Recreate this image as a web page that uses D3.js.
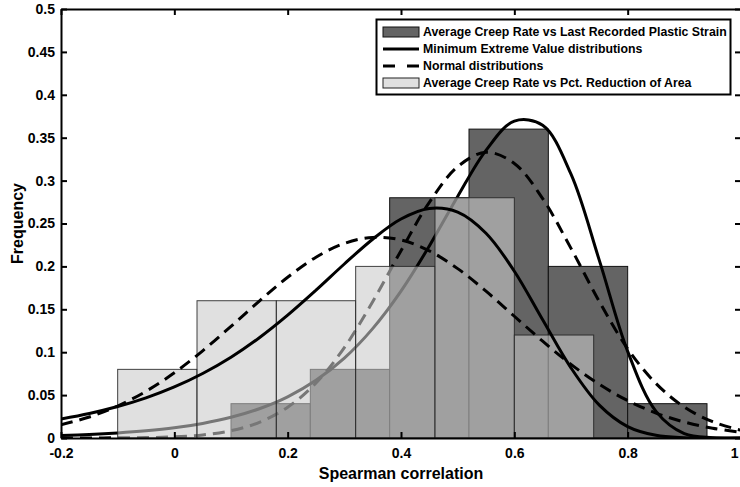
<!DOCTYPE html>
<html><head><meta charset="utf-8">
<script src="https://cdn.jsdelivr.net/npm/d3@7"></script>
<style>
body{margin:0;background:#fff;overflow:hidden}
svg{display:block;font-family:"Liberation Sans",Arial,sans-serif;font-weight:bold}
</style>
</head><body><svg id="c" width="740" height="487"></svg>
<script>
// ---- data ----
const binWidth = 0.14;
const darkBinStarts = [0.10, 0.24, 0.38, 0.52, 0.66, 0.80];
const darkFreq      = [0.04, 0.08, 0.28, 0.36, 0.20, 0.04];
const lightBinStarts = [-0.10, 0.04, 0.18, 0.32, 0.46, 0.60];
const lightFreq      = [0.08, 0.16, 0.16, 0.20, 0.28, 0.12];

const curveX = [-0.2,-0.15,-0.1,-0.05,0,0.05,0.1,0.15,0.2,0.25,0.3,0.35,0.4,0.45,0.5,0.55,0.6,0.65,0.7,0.75,0.8,0.85,0.9,0.95,1.0];
const darkMEV    = [0.0029,0.0041,0.0059,0.0084,0.0119,0.0170,0.0241,0.0341,0.0480,0.0672,0.0931,0.1275,0.1712,0.2238,0.2815,0.3353,0.3693,0.3645,0.3075,0.2070,0.1010,0.0310,0.0050,0.0004,0.0000];
const darkNormal = [0.0000,0.0001,0.0002,0.0005,0.0014,0.0036,0.0085,0.0183,0.0359,0.0641,0.1054,0.1588,0.2183,0.2747,0.3162,0.3329,0.3200,0.2790,0.2210,0.1590,0.1040,0.0635,0.0360,0.0190,0.0090];
const lightMEV    = [0.0222,0.0286,0.0367,0.0468,0.0595,0.0752,0.0942,0.1169,0.1432,0.1723,0.2028,0.2317,0.2552,0.2675,0.2632,0.2386,0.1944,0.1378,0.0817,0.0383,0.0133,0.0031,0.0004,0.0000,0.0000];
const lightNormal = [0.0154,0.0245,0.0373,0.0544,0.0760,0.1016,0.1301,0.1596,0.1874,0.2107,0.2268,0.2338,0.2308,0.2181,0.1974,0.1711,0.1419,0.1128,0.0858,0.0625,0.0436,0.0291,0.0186,0.0114,0.0067];

const xTicks = [-0.2, 0, 0.2, 0.4, 0.6, 0.8, 1];
const xTickLabels = ["-0.2", "0", "0.2", "0.4", "0.6", "0.8", "1"];
const yTicks = [0, 0.05, 0.1, 0.15, 0.2, 0.25, 0.3, 0.35, 0.4, 0.45, 0.5];
const yTickLabels = ["0", "0.05", "0.1", "0.15", "0.2", "0.25", "0.3", "0.35", "0.4", "0.45", "0.5"];
const xLabel = "Spearman correlation";
const yLabel = "Frequency";
const legendLabels = [
  "Average Creep Rate vs Last Recorded Plastic Strain",
  "Minimum Extreme Value distributions",
  "Normal distributions",
  "Average Creep Rate vs Pct. Reduction of Area"
];

// ---- layout ----
const L = 61, R = 741, T = 9, B = 438;
const x = d3.scaleLinear().domain([-0.2, 1.0]).range([L, R]);
const y = d3.scaleLinear().domain([0, 0.5]).range([B, T]);
const svg = d3.select("#c");

svg.append("defs").append("clipPath").attr("id", "clip")
  .append("rect").attr("x", L).attr("y", T).attr("width", R - L).attr("height", B - T);

const plot = svg.append("g").attr("clip-path", "url(#clip)");

// dark histogram
plot.append("g").selectAll("rect").data(darkBinStarts).join("rect")
  .attr("x", d => x(d)).attr("width", d => x(d + binWidth) - x(d))
  .attr("y", (d, i) => y(darkFreq[i])).attr("height", (d, i) => y(0) - y(darkFreq[i]))
  .attr("fill", "#646464").attr("stroke", "#111").attr("stroke-width", 1);

const line = arr => d3.line()
  .x((d, i) => x(curveX[i])).y(d => y(d))
  .curve(d3.curveCatmullRom.alpha(0.5))(arr);

// dark series curves (behind light bars)
plot.append("path").attr("d", line(darkMEV)).attr("fill", "none")
  .attr("stroke", "#000").attr("stroke-width", 3);
plot.append("path").attr("d", line(darkNormal)).attr("fill", "none")
  .attr("stroke", "#000").attr("stroke-width", 3).attr("stroke-dasharray", "12,7");

// light histogram (semi-transparent)
plot.append("g").selectAll("rect").data(lightBinStarts).join("rect")
  .attr("x", d => x(d)).attr("width", d => x(d + binWidth) - x(d))
  .attr("y", (d, i) => y(lightFreq[i])).attr("height", (d, i) => y(0) - y(lightFreq[i]))
  .attr("fill", "rgb(202,202,202)").attr("fill-opacity", 0.587)
  .attr("stroke", "#222").attr("stroke-opacity", 0.85).attr("stroke-width", 1);

// light series curves
plot.append("path").attr("d", line(lightMEV)).attr("fill", "none")
  .attr("stroke", "#000").attr("stroke-width", 3);
plot.append("path").attr("d", line(lightNormal)).attr("fill", "none")
  .attr("stroke", "#000").attr("stroke-width", 3).attr("stroke-dasharray", "12,7");

// ---- axes ----
function styleAxis(g) {
  g.select(".domain").attr("stroke", "#000").attr("stroke-width", 2);
  g.selectAll(".tick line").attr("stroke", "#000").attr("stroke-width", 2);
  g.selectAll(".tick text").attr("fill", "#000").attr("font-size", 14).attr("font-weight", "bold")
    .attr("font-family", '"Liberation Sans", Arial, sans-serif');
}
const xAxisG = svg.append("g").attr("transform", `translate(0,${B})`)
  .call(d3.axisBottom(x).tickValues(xTicks).tickFormat((d, i) => xTickLabels[i])
    .tickSizeInner(-6).tickSizeOuter(0).tickPadding(10))
  .call(styleAxis);
// keep the last label inside the window
xAxisG.selectAll(".tick text").filter(d => d === 1).attr("text-anchor", "end").attr("dx", -3);
svg.append("g").attr("transform", `translate(0,${T})`)
  .call(d3.axisTop(x).tickValues(xTicks).tickFormat("").tickSizeInner(-6).tickSizeOuter(0))
  .call(styleAxis);
svg.append("g").attr("transform", `translate(${L},0)`)
  .call(d3.axisLeft(y).tickValues(yTicks).tickFormat((d, i) => yTickLabels[i])
    .tickSizeInner(-6).tickSizeOuter(0).tickPadding(6))
  .call(styleAxis);
svg.append("g").attr("transform", `translate(${R},0)`)
  .call(d3.axisRight(y).tickValues(yTicks).tickFormat("").tickSizeInner(-6).tickSizeOuter(0))
  .call(styleAxis);

// axis titles
svg.append("text").attr("x", (L + R) / 2).attr("y", 479).attr("text-anchor", "middle")
  .attr("font-size", 16).attr("fill", "#000").text(xLabel);
svg.append("text").attr("transform", `translate(23,${(T + B) / 2}) rotate(-90)`)
  .attr("text-anchor", "middle").attr("font-size", 16).attr("fill", "#000").text(yLabel);

// ---- legend ----
const lg = svg.append("g");
lg.append("rect").attr("x", 376.5).attr("y", 19.5).attr("width", 354).attr("height", 75)
  .attr("fill", "#fff").attr("stroke", "#000").attr("stroke-width", 2);
const rowsY = [32, 49, 66, 83];
const rows = lg.selectAll("g.row").data(legendLabels).join("g").attr("class", "row")
  .attr("transform", (d, i) => `translate(0,${rowsY[i]})`);
rows.each(function(d, i) {
  const g = d3.select(this);
  if (i === 0) {
    g.append("rect").attr("x", 383).attr("y", -5).attr("width", 36).attr("height", 10)
      .attr("fill", "#646464").attr("stroke", "#111").attr("stroke-width", 1);
  } else if (i === 3) {
    g.append("rect").attr("x", 383).attr("y", -5).attr("width", 36).attr("height", 10)
      .attr("fill", "rgb(202,202,202)").attr("fill-opacity", 0.587)
      .attr("stroke", "#222").attr("stroke-width", 1);
  } else {
    g.append("line").attr("x1", 383).attr("x2", 419).attr("y1", 0).attr("y2", 0)
      .attr("stroke", "#000").attr("stroke-width", 3)
      .attr("stroke-dasharray", i === 2 ? "12,12" : null);
  }
  g.append("text").attr("x", 423).attr("y", 0).attr("dy", "0.35em")
    .attr("font-size", 12.3).attr("fill", "#000").text(d);
});
</script>
</body></html>
